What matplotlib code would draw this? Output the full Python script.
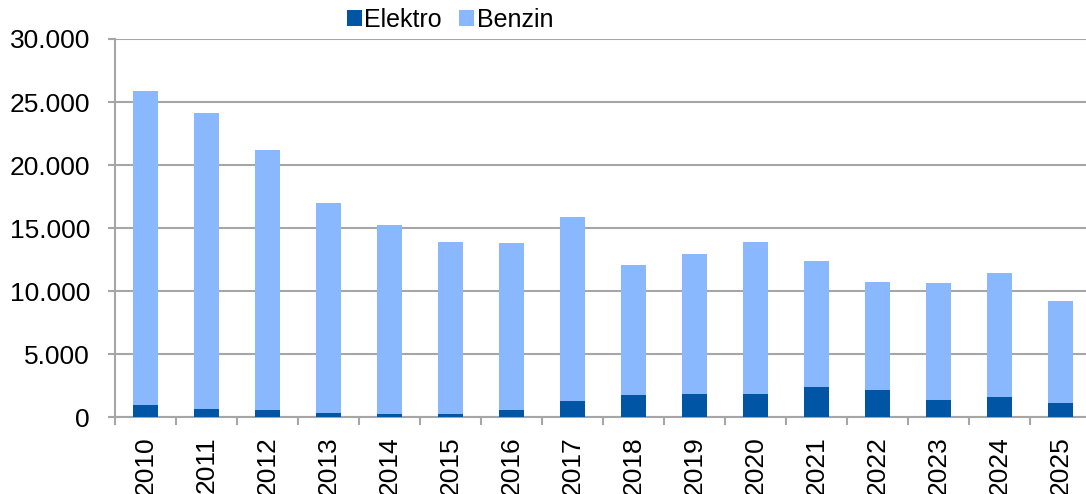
import matplotlib.pyplot as plt
import numpy as np
from matplotlib.ticker import FuncFormatter, FixedLocator

plt.rcParams['font.family'] = ['Liberation Sans', 'DejaVu Sans']

# Daten
jahre = ['2010', '2011', '2012', '2013', '2014', '2015', '2016', '2017',
         '2018', '2019', '2020', '2021', '2022', '2023', '2024', '2025']
elektro = [980, 660, 580, 320, 260, 260, 530, 1240,
           1780, 1860, 1800, 2390, 2170, 1380, 1620, 1150]
gesamt = [25900, 24150, 21200, 17000, 15250, 13850, 13800, 15850,
          12100, 12950, 13900, 12350, 10700, 10650, 11450, 9200]
benzin = [g - e for g, e in zip(gesamt, elektro)]

farbe_elektro = '#0055A5'
farbe_benzin = '#8AB8FF'
grau = '#A6A6A6'

fig = plt.figure(figsize=(10.86, 4.94), dpi=100)
# Plotfläche reicht etwas über den rechten Bildrand hinaus (wie im Original)
ax = fig.add_axes([115 / 1086, 1 - 417 / 494, 976 / 1086, 378 / 494])

x = np.arange(len(jahre))
ax.bar(x, elektro, width=0.4, color=farbe_elektro, label='Elektro', zorder=3)
ax.bar(x, benzin, width=0.4, bottom=elektro, color=farbe_benzin, label='Benzin', zorder=3)

ax.set_ylim(0, 30000)
ax.set_xlim(-0.5, len(jahre) - 0.5)
ax.set_yticks(np.arange(0, 30001, 5000))
ax.yaxis.set_major_formatter(FuncFormatter(lambda v, p: f'{int(v):,}'.replace(',', '.')))
ax.grid(axis='y', color=grau, linewidth=1.5, zorder=0)

ax.set_xticks(x)
ax.set_xticklabels(jahre, rotation=90)
ax.xaxis.set_minor_locator(FixedLocator(np.arange(-0.5, len(jahre), 1)))
ax.tick_params(axis='x', which='major', length=0, labelsize=19, pad=14)
ax.tick_params(axis='x', which='minor', length=6, width=1.5, color=grau)
ax.tick_params(axis='y', length=5, width=1.5, color=grau, labelsize=19, pad=13)

for s in ['top', 'right']:
    ax.spines[s].set_visible(False)
for s in ['left', 'bottom']:
    ax.spines[s].set_color(grau)
    ax.spines[s].set_linewidth(1.5)

fig.legend(*ax.get_legend_handles_labels(), loc='center',
           bbox_to_anchor=(450 / 1086, 1 - 20 / 494), ncol=2, frameon=False,
           fontsize=18, handlelength=0.6, handleheight=0.6, handletextpad=0.1,
           columnspacing=0.7, borderpad=0)

plt.savefig('out.png', dpi=100)
